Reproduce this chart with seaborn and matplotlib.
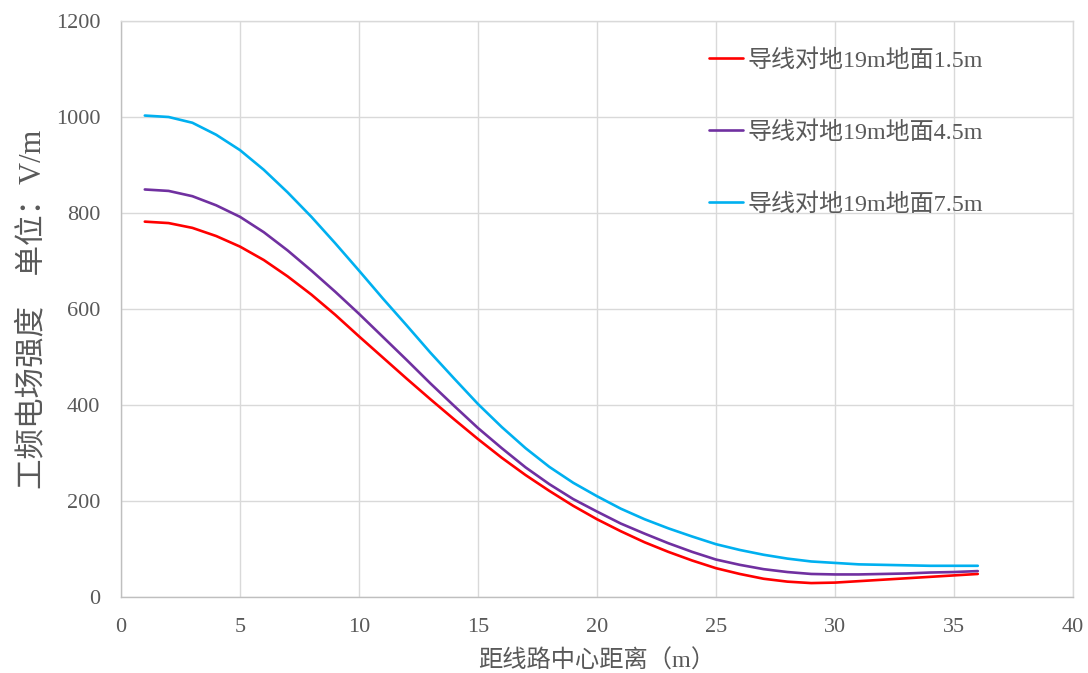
import numpy as np
import pandas as pd
import seaborn as sns
import matplotlib.pyplot as plt

# 距线路中心距离 (m)
distance = list(range(1, 37))

# 工频电场强度 V/m, 读图估计
e_15 = [782, 779, 769, 752, 730, 702, 668, 630, 588, 543,
        499, 455, 412, 370, 329, 290, 254, 221, 190, 162,
        137, 114, 94, 76, 60, 48, 38, 32, 29, 30,
        33, 36, 39, 42, 45, 48]
e_45 = [849, 846, 835, 816, 792, 760, 722, 680, 636, 590,
        542, 494, 445, 398, 352, 310, 270, 235, 204, 178,
        153, 132, 112, 94, 78, 67, 58, 52, 48, 47,
        47, 48, 49, 51, 52, 54]
e_75 = [1003, 1000, 988, 963, 931, 890, 843, 792, 737, 680,
        622, 566, 509, 455, 402, 354, 310, 271, 238, 210,
        184, 162, 143, 126, 110, 98, 88, 80, 74, 71,
        68, 67, 66, 65, 65, 65]

labels = ['导线对地19m地面1.5m', '导线对地19m地面4.5m', '导线对地19m地面7.5m']
colors = ['#FF0000', '#7030A0', '#00B0F0']
x_ticks = [0, 5, 10, 15, 20, 25, 30, 35, 40]
y_ticks = [0, 200, 400, 600, 800, 1000, 1200]

df = pd.DataFrame({
    'x': distance * 3,
    'E': e_15 + e_45 + e_75,
    'series': [labels[0]] * 36 + [labels[1]] * 36 + [labels[2]] * 36,
})

sns.set_style('white')
plt.rcParams['font.family'] = ['Liberation Serif', 'Noto Sans CJK SC']
plt.rcParams['axes.unicode_minus'] = False

text_color = '#595959'
grid_color = '#d9d9d9'

fig, ax = plt.subplots(figsize=(10.88, 6.73), dpi=100)
fig.subplots_adjust(left=121/1088, right=1073/1088, top=1-21/673, bottom=1-597/673)

sns.lineplot(data=df, x='x', y='E', hue='series', palette=colors,
             linewidth=1.9, ax=ax, legend=True)
for ln in ax.get_lines():
    ln.set_solid_joinstyle('round')

ax.set_xlim(0, 40)
ax.set_ylim(0, 1200)
ax.set_xticks(x_ticks)
ax.set_yticks(y_ticks)
ax.grid(True, color=grid_color, linewidth=1)
ax.set_axisbelow(True)
ax.tick_params(axis='both', length=0, pad=15, labelsize=16, labelcolor=text_color)

for side in ['top', 'right']:
    ax.spines[side].set_color(grid_color)
    ax.spines[side].set_linewidth(1)
for side in ['left', 'bottom']:
    ax.spines[side].set_color('#bfbfbf')
    ax.spines[side].set_linewidth(1)

ax.set_xlabel('距线路中心距离（m）', fontsize=17.5, color=text_color, labelpad=9)
ax.set_ylabel('工频电场强度　单位：V/m', fontsize=22, color=text_color, labelpad=6)

leg = ax.legend(loc='upper left', bbox_to_anchor=(709/1088, 1-49/673),
                bbox_transform=fig.transFigure, frameon=False, fontsize=17.3,
                labelspacing=2.05, handlelength=1.4, handletextpad=0.2,
                borderaxespad=0, borderpad=0)
for t in leg.get_texts():
    t.set_color(text_color)

fig.savefig('out.png', dpi=100)
